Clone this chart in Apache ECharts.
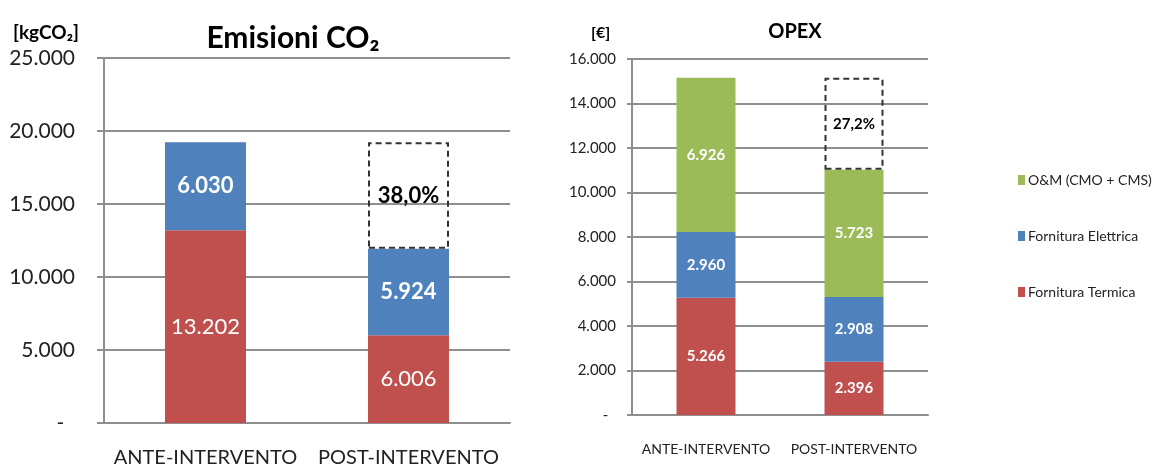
<!DOCTYPE html>
<html>
<head>
<meta charset="utf-8">
<script src="https://cdn.jsdelivr.net/npm/echarts@6/dist/echarts.min.js"></script>
<style>
  html, body { margin: 0; padding: 0; background: #fff; }
  #chart { width: 1161px; height: 468px; }
</style>
</head>
<body>
<div id="chart"></div>
<script>
// dati
const categories = ['ANTE-INTERVENTO', 'POST-INTERVENTO']
const seriesNames = ['Fornitura Termica', 'Fornitura Elettrica', 'O&M (CMO + CMS)']
const co2Termica = [13202, 6006]
const co2Elettrica = [6030, 5924]
const opexTermica = [5266, 2396]
const opexElettrica = [2960, 2908]
const opexOM = [6926, 5723]

const colors = ['#C0504D', '#4F81BD', '#9BBB59']
const fontLeft = 'Lato, "Open Sans", sans-serif'
const fontRight = 'Lato, sans-serif'

function fmt(v) {
  if (v === 0) return '-  '
  return String(Math.round(v)).replace(/\B(?=(\d{3})+(?!\d))/g, '.')
}

// totali e riduzione
const co2Tot = co2Termica.map((v, i) => v + co2Elettrica[i])
const opexTot = opexTermica.map((v, i) => v + opexElettrica[i] + opexOM[i])
const co2Gap = ['-', co2Tot[0] - co2Tot[1]]
const opexGap = ['-', opexTot[0] - opexTot[1]]
const co2Pct = ((co2Tot[0] - co2Tot[1]) / co2Tot[0] * 100).toFixed(1).replace('.', ',') + '%'
const opexPct = ((opexTot[0] - opexTot[1]) / opexTot[0] * 100).toFixed(1).replace('.', ',') + '%'

const axisGray = '#8f8f8f'

function gapSeries(data, x, pct, fontSize, font, width) {
  return {
    name: 'riduzione',
    type: 'bar',
    stack: 's' + x,
    xAxisIndex: x,
    yAxisIndex: x,
    barWidth: width,
    data: data,
    itemStyle: {
      color: 'rgba(0,0,0,0)',
      borderColor: '#333',
      borderType: [6, 4],
      borderWidth: 2
    },
    label: {
      show: true,
      position: 'inside',
      formatter: pct,
      color: '#000',
      fontWeight: 'bold',
      fontSize: fontSize,
      fontFamily: font
    },
    silent: true
  }
}

function barSeries(name, data, color, x, width, fontSize, font, bold) {
  return {
    name: name,
    type: 'bar',
    stack: 's' + x,
    xAxisIndex: x,
    yAxisIndex: x,
    barWidth: width,
    data: data,
    itemStyle: { color: color },
    label: {
      show: true,
      position: 'inside',
      formatter: p => fmt(p.value),
      color: '#fff',
      fontWeight: bold ? 'bold' : 'normal',
      fontSize: fontSize,
      fontFamily: font
    }
  }
}

const chart = echarts.init(document.getElementById('chart'))

const option = {
  animation: false,
  backgroundColor: '#fff',
  title: [
    {
      text: 'Emisioni CO₂',
      left: 288,
      top: 18,
      textAlign: 'center',
      textStyle: { fontFamily: fontLeft, fontWeight: 'bold', fontSize: 30, color: '#000' }
    },
    {
      text: '[kgCO₂]',
      left: 8,
      top: 18,
      textStyle: { fontFamily: fontLeft, fontWeight: 'bold', fontSize: 19, color: '#000' }
    },
    {
      text: 'OPEX',
      left: 790,
      top: 17,
      textAlign: 'center',
      textStyle: { fontFamily: fontRight, fontWeight: 'bold', fontSize: 20, color: '#000' }
    },
    {
      text: '[€]',
      left: 586,
      top: 20,
      textStyle: { fontFamily: fontRight, fontWeight: 'bold', fontSize: 16, color: '#000' }
    }
  ],
  legend: {
    data: [seriesNames[2], seriesNames[1], seriesNames[0]],
    orient: 'vertical',
    left: 1013,
    top: 168,
    itemWidth: 7,
    itemHeight: 10,
    itemGap: 42,
    icon: 'rect',
    textStyle: { fontFamily: fontRight, fontSize: 14, color: '#222', padding: [0, 0, 0, -2] }
  },
  grid: [
    { left: 104, right: 651, top: 58, bottom: 45 },
    { left: 632, right: 233, top: 59, bottom: 53 }
  ],
  xAxis: [
    {
      type: 'category',
      gridIndex: 0,
      data: categories,
      axisLine: { lineStyle: { color: axisGray, width: 2 } },
      axisTick: { length: 9, lineStyle: { color: axisGray, width: 2 } },
      axisLabel: { interval: 0, fontFamily: fontLeft, fontSize: 20, color: '#222', margin: 25 }
    },
    {
      type: 'category',
      gridIndex: 1,
      data: categories,
      axisLine: { lineStyle: { color: axisGray, width: 2 } },
      axisTick: { length: 8, lineStyle: { color: axisGray, width: 2 } },
      axisLabel: { interval: 0, fontFamily: fontRight, fontSize: 14, color: '#222', margin: 27 }
    }
  ],
  yAxis: [
    {
      type: 'value',
      gridIndex: 0,
      min: 0,
      max: 25000,
      interval: 5000,
      axisLine: { show: true, lineStyle: { color: axisGray, width: 2 } },
      axisTick: { show: true, length: 7, lineStyle: { color: axisGray, width: 2 } },
      splitLine: { lineStyle: { color: axisGray, width: 2 } },
      axisLabel: { formatter: fmt, fontFamily: fontLeft, fontSize: 21, color: '#222', margin: 29 }
    },
    {
      type: 'value',
      gridIndex: 1,
      min: 0,
      max: 16000,
      interval: 2000,
      axisLine: { show: true, lineStyle: { color: axisGray, width: 2 } },
      axisTick: { show: true, length: 5, lineStyle: { color: axisGray, width: 2 } },
      splitLine: { lineStyle: { color: axisGray, width: 2 } },
      axisLabel: { formatter: fmt, fontFamily: fontRight, fontSize: 15, color: '#222', margin: 16 }
    }
  ],
  series: [
    barSeries(seriesNames[0], co2Termica, colors[0], 0, 81, 22, fontLeft, false),
    barSeries(seriesNames[1], co2Elettrica, colors[1], 0, 81, 22, fontLeft, true),
    gapSeries(co2Gap, 0, co2Pct, 22, fontLeft, 81),
    barSeries(seriesNames[0], opexTermica, colors[0], 1, 59, 15, fontRight, true),
    barSeries(seriesNames[1], opexElettrica, colors[1], 1, 59, 15, fontRight, true),
    barSeries(seriesNames[2], opexOM, colors[2], 1, 59, 15, fontRight, true),
    gapSeries(opexGap, 1, opexPct, 15, fontRight, 59)
  ]
}

chart.setOption(option)
window.onresize = function() {
  chart.resize()
}
</script>
</body>
</html>
